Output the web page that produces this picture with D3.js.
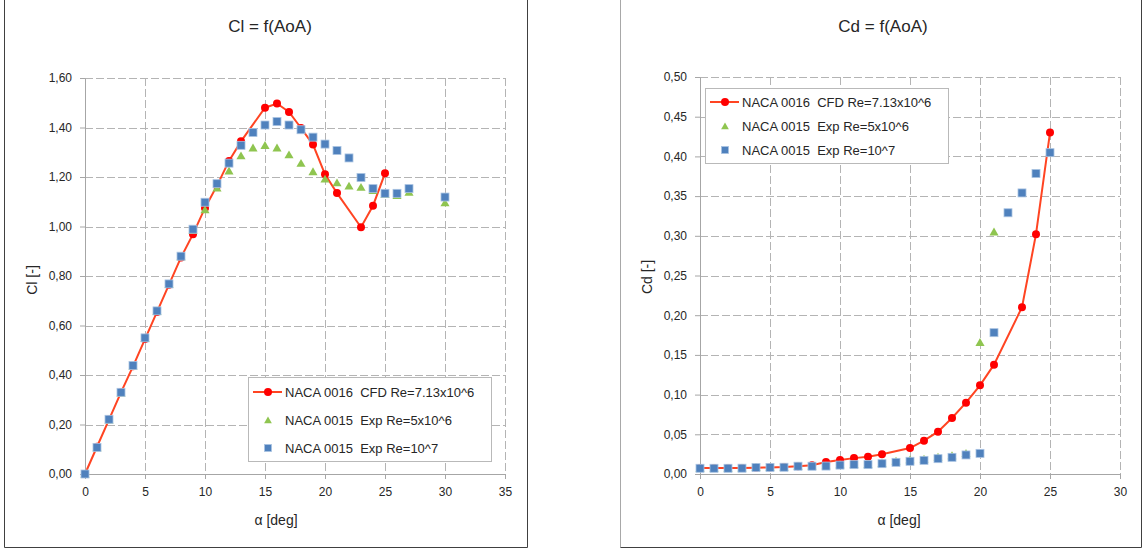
<!DOCTYPE html>
<html>
<head>
<meta charset="utf-8">
<script src="https://cdn.jsdelivr.net/npm/d3@7"></script>
<style>
  body { margin: 0; background: #fff; }
  svg text { font-family: "Liberation Sans", Arial, sans-serif; fill: #262626; white-space: pre; }
</style>
</head>
<body>
<svg id="chart" width="1142" height="550"></svg>
<script>
// Values

// CFD, NACA 0016, Re=7.13x10^6
const alphaCFD = [0, 1, 2, 3, 4, 5, 6, 7, 8, 9, 10, 11, 12, 13, 15, 16, 17, 18, 19, 20, 21, 23, 24, 25]
const clCFD = [0, 0.11, 0.22, 0.33, 0.435, 0.545, 0.655, 0.765, 0.875, 0.969, 1.075, 1.165, 1.265, 1.344,
  1.480, 1.497, 1.463, 1.398, 1.331, 1.211, 1.135, 0.997, 1.084, 1.215]
const cdCFD = [0.0075, 0.0075, 0.0076, 0.0077, 0.0080, 0.0083, 0.0088, 0.0097, 0.0110, 0.0151, 0.0176, 0.0200, 0.0218, 0.0248,
  0.0327, 0.0420, 0.0533, 0.0705, 0.0898, 0.1117, 0.1377, 0.210, 0.302, 0.430]

// Experiment, NACA 0015, Re=5x10^6
const alphaExp5Cl = [0, 1, 2, 3, 4, 5, 6, 7, 8, 9, 10, 11, 12, 13, 14, 15, 16, 17, 18, 19, 20, 21, 22, 23, 24, 25, 26, 27, 30]
const clExp5 = [0, 0.107, 0.219, 0.328, 0.437, 0.548, 0.657, 0.766, 0.878, 0.985, 1.068, 1.156, 1.225, 1.286, 1.318, 1.328,
  1.318, 1.290, 1.256, 1.222, 1.192, 1.177, 1.164, 1.159, 1.146, 1.130, 1.126, 1.139, 1.096]
const alphaExp5Cd = [0, 1, 2, 3, 4, 5, 6, 7, 8, 9, 10, 11, 12, 13, 14, 15, 16, 17, 18, 19, 20, 21]
const cdExp5 = [0.0075, 0.0075, 0.0075, 0.0076, 0.0085, 0.0086, 0.0088, 0.0100, 0.0102, 0.0105, 0.0118, 0.0124, 0.0126,
  0.0138, 0.0165, 0.0180, 0.0190, 0.0215, 0.0232, 0.0262, 0.1658, 0.305]

// Experiment, NACA 0015, Re=10^7
const alphaExp10Cl = [0, 1, 2, 3, 4, 5, 6, 7, 8, 9, 10, 11, 12, 13, 14, 15, 16, 17, 18, 19, 20, 21, 22, 23, 24, 25, 26, 27, 30]
const clExp10 = [0, 0.1075, 0.221, 0.330, 0.4385, 0.550, 0.659, 0.768, 0.880, 0.989, 1.098, 1.173, 1.256, 1.328, 1.380, 1.410,
  1.424, 1.410, 1.391, 1.361, 1.333, 1.307, 1.277, 1.198, 1.153, 1.134, 1.134, 1.153, 1.119]
const alphaExp10Cd = [0, 1, 2, 3, 4, 5, 6, 7, 8, 9, 10, 11, 12, 13, 14, 15, 16, 17, 18, 19, 20, 21, 22, 23, 24, 25]
const cdExp10 = [0.0072, 0.0072, 0.0072, 0.0073, 0.0082, 0.0083, 0.0085, 0.0098, 0.0098, 0.0100, 0.0112, 0.0118, 0.0118,
  0.0130, 0.0147, 0.0160, 0.0172, 0.0193, 0.0210, 0.0240, 0.0260, 0.178, 0.329, 0.354, 0.3785, 0.4047]

// Tick labels
const clXTicks = [0, 5, 10, 15, 20, 25, 30, 35]
const clYTicks = [0, 0.2, 0.4, 0.6, 0.8, 1.0, 1.2, 1.4, 1.6]
const cdXTicks = [0, 5, 10, 15, 20, 25, 30]
const cdYTicks = [0, 0.05, 0.1, 0.15, 0.2, 0.25, 0.3, 0.35, 0.4, 0.45, 0.5]

const seriesNames = ['NACA 0016  CFD Re=7.13x10^6', 'NACA 0015  Exp Re=5x10^6', 'NACA 0015  Exp Re=10^7']

const red = '#ff0000'
const redLine = '#ff4422'
const blue = '#4f81bd'
const green = '#8fc550'

const svg = d3.select('#chart')
const comma = d3.formatLocale({ decimal: ',', thousands: '.', grouping: [3], currency: ['', ''] }).format('.2f')

const zip = (xs, ys) => xs.map((a, i) => [a, ys[i]])

// chart frames
const frames = svg.append('g').attr('fill', 'none')
frames.append('path').attr('d', 'M4.5,0V547.5H527.5V0').attr('stroke', '#404040')
frames.append('path').attr('d', 'M620.5,0V547.5').attr('stroke', '#a8a8a8')
frames.append('path').attr('d', 'M620.5,547.5H1141.5V0').attr('stroke', '#404040')

function drawMarker(g, type, cx, cy, small) {
  if (type === 'circle') {
    g.append('circle').attr('cx', cx).attr('cy', cy).attr('r', 4).attr('fill', red)
  } else if (type === 'triangle') {
    g.append('path')
      .attr('d', d3.symbol(d3.symbolTriangle, small ? 26 : 36)())
      .attr('transform', `translate(${cx},${cy + 1})`)
      .attr('fill', green)
  } else {
    const s = small ? 7 : 8
    g.append('rect').attr('x', cx - s / 2).attr('y', cy - s / 2).attr('width', s).attr('height', s)
      .attr('fill', blue).attr('stroke', '#a9c3e2').attr('stroke-width', 0.8)
  }
}

function panel(p) {
  const g = svg.append('g')
  const x = d3.scaleLinear().domain(p.xDomain).range([p.left, p.right])
  const y = d3.scaleLinear().domain(p.yDomain).range([p.bottom, p.top])

  // dashed gridlines
  g.append('g').selectAll('line').data(p.yTicks.slice(1)).enter().append('line')
    .attr('x1', p.left).attr('x2', p.right)
    .attr('y1', d => Math.round(y(d)) + 0.5).attr('y2', d => Math.round(y(d)) + 0.5)
    .attr('stroke', '#b4b4b4').attr('stroke-dasharray', '8,3')
  g.append('g').selectAll('line').data(p.xTicks.slice(1)).enter().append('line')
    .attr('y1', p.top).attr('y2', p.bottom)
    .attr('x1', d => Math.round(x(d)) + 0.5).attr('x2', d => Math.round(x(d)) + 0.5)
    .attr('stroke', '#b4b4b4').attr('stroke-dasharray', '8,3')

  // axes
  const xAxis = d3.axisBottom(x).tickValues(p.xTicks).tickFormat(d3.format('d'))
    .tickSize(5).tickSizeOuter(0).tickPadding(8)
  const yAxis = d3.axisLeft(y).tickValues(p.yTicks).tickFormat(comma)
    .tickSize(5).tickSizeOuter(0).tickPadding(8)
  const gx = g.append('g').attr('transform', `translate(0,${p.bottom})`).call(xAxis)
  const gy = g.append('g').attr('transform', `translate(${p.left},0)`).call(yAxis)
  ;[gx, gy].forEach(a => {
    a.select('.domain').attr('stroke', '#a6a6a6')
    a.selectAll('.tick line').attr('stroke', '#a6a6a6')
    a.selectAll('text').attr('font-size', 12).attr('fill', '#262626')
  })

  // titles
  g.append('text').attr('x', p.titleX).attr('y', 32).attr('text-anchor', 'middle')
    .attr('font-size', 17).text(p.title)
  g.append('text').attr('x', p.xTitleX).attr('y', 525).attr('text-anchor', 'middle')
    .attr('font-size', 14).text('α [deg]')
  g.append('text').attr('transform', `translate(${p.yTitleX},${p.yTitleY}) rotate(-90)`)
    .attr('text-anchor', 'middle').attr('font-size', 14).text(p.yTitle)

  // series: CFD line first, then the experiments on top
  const cfd = zip(alphaCFD, p.cfd)
  g.append('path').datum(cfd)
    .attr('d', d3.line().x(d => x(d[0])).y(d => y(d[1])))
    .attr('fill', 'none').attr('stroke', redLine).attr('stroke-width', 2)
  const gm = g.append('g')
  cfd.forEach(d => drawMarker(gm, 'circle', x(d[0]), y(d[1])))
  zip(p.exp5x, p.exp5).forEach(d => drawMarker(gm, 'triangle', x(d[0]), y(d[1])))
  zip(p.exp10x, p.exp10).forEach(d => drawMarker(gm, 'square', x(d[0]), y(d[1])))

  // legend
  const L = p.legend
  const lg = g.append('g')
  lg.append('rect').attr('x', L.x + 0.5).attr('y', L.y + 0.5).attr('width', L.w).attr('height', L.h)
    .attr('fill', '#fff').attr('stroke', '#b9b9b9')
  const types = ['circle', 'triangle', 'square']
  types.forEach((t, i) => {
    const cy = L.y + L.rows[i]
    if (t === 'circle') {
      lg.append('line').attr('x1', L.x + 5).attr('x2', L.x + 34).attr('y1', cy).attr('y2', cy)
        .attr('stroke', redLine).attr('stroke-width', 2)
    }
    drawMarker(lg, t, L.x + 20, cy, true)
    lg.append('text').attr('x', L.x + 37).attr('y', cy).attr('dy', '0.35em')
      .attr('font-size', 13).text(seriesNames[i])
  })
}

panel({
  left: 85, right: 505, top: 78, bottom: 474,
  xDomain: [0, 35], yDomain: [0, 1.6], xTicks: clXTicks, yTicks: clYTicks,
  title: 'Cl = f(AoA)', titleX: 270, xTitleX: 276, yTitle: 'Cl [-]', yTitleX: 37, yTitleY: 280,
  cfd: clCFD, exp5x: alphaExp5Cl, exp5: clExp5, exp10x: alphaExp10Cl, exp10: clExp10,
  legend: { x: 248, y: 377, w: 243, h: 84, rows: [15, 43, 71] }
})

panel({
  left: 700, right: 1120, top: 77, bottom: 474,
  xDomain: [0, 30], yDomain: [0, 0.5], xTicks: cdXTicks, yTicks: cdYTicks,
  title: 'Cd = f(AoA)', titleX: 883, xTitleX: 899, yTitle: 'Cd [-]', yTitleX: 652, yTitleY: 277,
  cfd: cdCFD, exp5x: alphaExp5Cd, exp5: cdExp5, exp10x: alphaExp10Cd, exp10: cdExp10,
  legend: { x: 705, y: 88, w: 243, h: 75, rows: [14, 38, 62] }
})
</script>
</body>
</html>
